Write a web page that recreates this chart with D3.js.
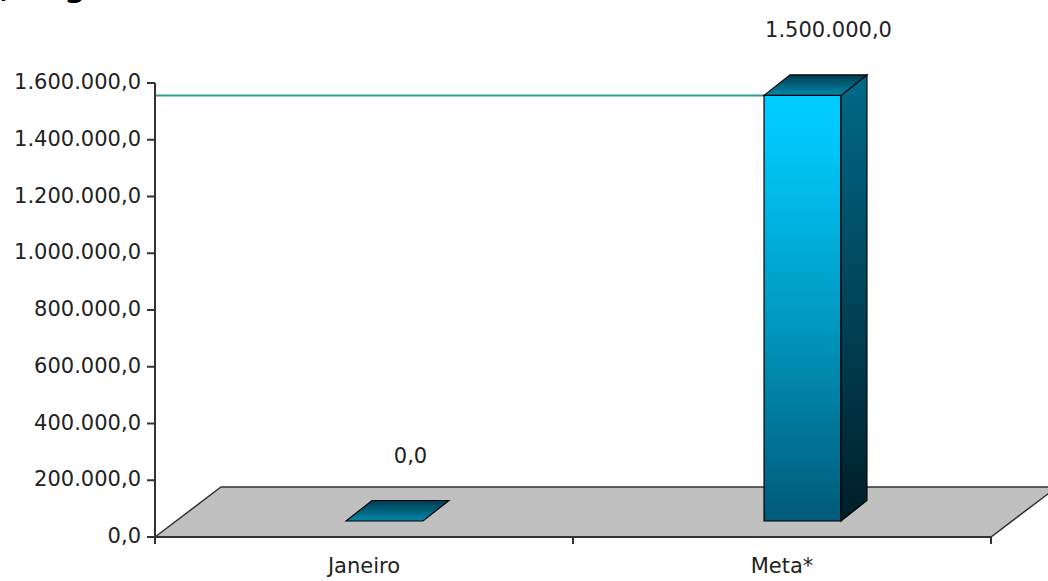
<!DOCTYPE html>
<html>
<head>
<meta charset="utf-8">
<script src="https://cdn.jsdelivr.net/npm/d3@7/dist/d3.min.js"></script>
<style>
body { margin: 0; background: #fff; }
svg { display: block; }
text { font-family: "DejaVu Sans", Verdana, sans-serif; fill: #222; }
</style>
</head>
<body>
<svg width="1048" height="581"></svg>
<script>
// chart data
var categories = ["Janeiro", "Meta*"];
var values = [0, 1500000];
var metaValue = 1500000;
var yTicks = [0, 200000, 400000, 600000, 800000, 1000000, 1200000, 1400000, 1600000];
var titleText = ", ag";

var svg = d3.select("svg"),
    width = 1048,
    height = 581;

var br = d3.formatLocale({decimal: ",", thousands: ".", grouping: [3], currency: ["R$", ""]});
var fmt = br.format(",.1f");

var x = d3.scaleBand().domain(categories).range([155, 991]);
var y = d3.scaleLinear().domain([0, 1600000]).range([537, 83]);

// 3d offsets
var floorDx = 66, floorDy = -50;
var barFx = 20.5, barFy = -16;      // front plane of bars
var barDx = 26, barDy = -20.5;       // depth of a bar
var barW = x.bandwidth() * 0.184;

var defs = svg.append("defs");
function grad(id, stops) {
  var g = defs.append("linearGradient").attr("id", id)
    .attr("x1", 0).attr("y1", 0).attr("x2", 0).attr("y2", 1);
  stops.forEach(function(s) {
    g.append("stop").attr("offset", s[0]).attr("stop-color", s[1]);
  });
}
grad("gFront", [[0, "#00ccff"], [0.12, "#00c6f8"], [0.55, "#0096bd"], [1, "#005a78"]]);
grad("gSide", [[0, "#006a88"], [0.5, "#00455a"], [1, "#001e28"]]);
grad("gTop", [[0, "#003c52"], [1, "#0088aa"]]);

// title (clipped at top)
svg.append("text")
  .attr("x", 0).attr("y", -3)
  .style("font-weight", "bold").style("font-size", "30px").style("fill", "#000")
  .text(titleText.slice(0, 2))
  .append("tspan").attr("x", 44).text(titleText.slice(2));

// floor
var x0 = x.range()[0], x1 = x.range()[1], y0 = y(0);
svg.append("path")
  .attr("d", d3.line()([[x0, y0], [x0 + floorDx, y0 + floorDy], [x1 + floorDx, y0 + floorDy], [x1, y0]]) + "Z")
  .attr("fill", "#c0c0c0")
  .attr("stroke", "#333")
  .attr("stroke-width", 1.5);

// meta line
var metaY = y(metaValue) + barFy;
svg.append("line")
  .attr("x1", x0).attr("x2", x("Meta*") + x.bandwidth() / 2 + barFx - barW / 2)
  .attr("y1", metaY).attr("y2", metaY)
  .attr("stroke", "#339c99").attr("stroke-width", 2);

// axes
svg.append("line").attr("x1", x0).attr("x2", x0).attr("y1", y(1600000)).attr("y2", y0 + 6)
  .attr("stroke", "#333").attr("stroke-width", 2);
svg.append("line").attr("x1", x0 - 1).attr("x2", x1).attr("y1", y0).attr("y2", y0)
  .attr("stroke", "#333").attr("stroke-width", 2);

svg.selectAll(".ytick").data(yTicks).enter().append("line")
  .attr("x1", x0 - 8).attr("x2", x0)
  .attr("y1", function(d) { return y(d); }).attr("y2", function(d) { return y(d); })
  .attr("stroke", "#333").attr("stroke-width", 2);

svg.selectAll(".ylab").data(yTicks).enter().append("text")
  .attr("x", 141).attr("y", function(d) { return y(d) + 6; })
  .attr("text-anchor", "end")
  .style("font-size", "21px")
  .text(function(d) { return fmt(d); });

var xTickPos = [x0].concat(categories.map(function(c) { return x(c) + x.bandwidth(); }));
svg.selectAll(".xtick").data(xTickPos).enter().append("line")
  .attr("x1", function(d) { return d; }).attr("x2", function(d) { return d; })
  .attr("y1", y0).attr("y2", y0 + 7)
  .attr("stroke", "#333").attr("stroke-width", 2);

svg.selectAll(".xlab").data(categories).enter().append("text")
  .attr("x", function(d) { return x(d) + x.bandwidth() / 2; })
  .attr("y", 573)
  .attr("text-anchor", "middle")
  .style("font-size", "21px")
  .text(function(d) { return d; });

// bars
var bars = categories.map(function(c, i) {
  var l = x(c) + x.bandwidth() / 2 - barW / 2 + barFx;
  return {cat: c, v: values[i], l: l, r: l + barW, b: y(0) + barFy, t: y(values[i]) + barFy};
});

var g = svg.selectAll(".bar").data(bars).enter().append("g");

g.filter(function(d) { return d.v > 0; }).append("path")
  .attr("d", function(d) {
    return d3.line()([[d.l, d.t], [d.r, d.t], [d.r, d.b], [d.l, d.b]]) + "Z";
  })
  .attr("fill", "url(#gFront)").attr("stroke", "#000").attr("stroke-width", 1.2);

g.filter(function(d) { return d.v > 0; }).append("path")
  .attr("d", function(d) {
    return d3.line()([[d.r, d.t], [d.r + barDx, d.t + barDy], [d.r + barDx, d.b + barDy], [d.r, d.b]]) + "Z";
  })
  .attr("fill", "url(#gSide)").attr("stroke", "#000").attr("stroke-width", 1.2);

g.append("path")
  .attr("d", function(d) {
    return d3.line()([[d.l, d.t], [d.l + barDx, d.t + barDy], [d.r + barDx, d.t + barDy], [d.r, d.t]]) + "Z";
  })
  .attr("fill", "url(#gTop)").attr("stroke", "#000").attr("stroke-width", 1.2);

g.append("text")
  .attr("x", function(d) { return (d.l + d.r) / 2 + barDx; })
  .attr("y", function(d) { return d.t + barDy - 38; })
  .attr("text-anchor", "middle")
  .style("font-size", "21px")
  .text(function(d) { return fmt(d.v); });
</script>
</body>
</html>
